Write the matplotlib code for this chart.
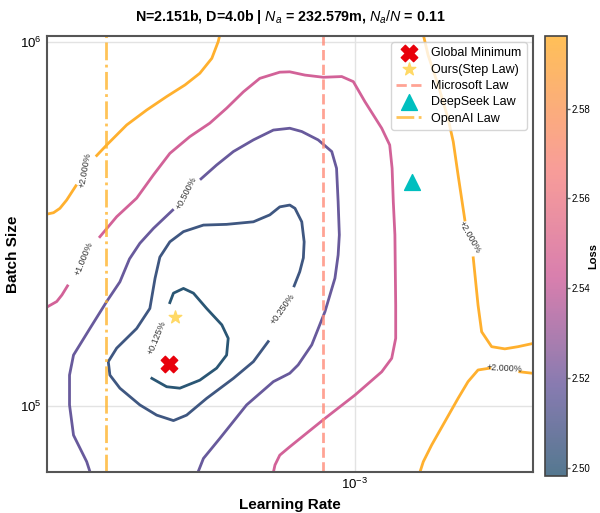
import numpy as np
import matplotlib
matplotlib.use('Agg')
import matplotlib.pyplot as plt
from matplotlib.colors import LinearSegmentedColormap, Normalize
from matplotlib.cm import ScalarMappable

plt.rcParams['font.family'] = ['Liberation Sans', 'DejaVu Sans']
plt.rcParams['mathtext.fontset'] = 'custom'
plt.rcParams['mathtext.rm'] = 'Liberation Sans'
plt.rcParams['mathtext.it'] = 'Liberation Sans:italic'
plt.rcParams['mathtext.bf'] = 'Liberation Sans:bold'

# contour paths, as (log10 lr, log10 bs)
c0125 = [(-3.463, 5.284), (-3.454, 5.310), (-3.429, 5.323), (-3.404, 5.310), (-3.371, 5.268),
         (-3.333, 5.223), (-3.317, 5.186), (-3.321, 5.140), (-3.346, 5.104), (-3.388, 5.071),
         (-3.438, 5.049), (-3.471, 5.053), (-3.508, 5.076)]
c025 = [(-3.217, 5.177), (-3.254, 5.122), (-3.304, 5.076), (-3.371, 5.021), (-3.421, 4.975),
        (-3.454, 4.960), (-3.496, 4.975), (-3.538, 5.003), (-3.588, 5.049), (-3.613, 5.085),
        (-3.617, 5.122), (-3.596, 5.159), (-3.546, 5.213), (-3.513, 5.268), (-3.500, 5.351),
        (-3.488, 5.409), (-3.463, 5.451), (-3.429, 5.479), (-3.379, 5.497), (-3.321, 5.499),
        (-3.254, 5.506), (-3.213, 5.525), (-3.188, 5.547), (-3.163, 5.552), (-3.150, 5.543),
        (-3.133, 5.506), (-3.127, 5.451), (-3.129, 5.407), (-3.138, 5.369), (-3.152, 5.330)]
c05_a = [(-3.385, 5.624), (-3.346, 5.662), (-3.304, 5.699), (-3.254, 5.731), (-3.204, 5.758),
         (-3.163, 5.763), (-3.133, 5.754), (-3.092, 5.731), (-3.058, 5.699), (-3.046, 5.653),
         (-3.042, 5.561), (-3.039, 5.470), (-3.042, 5.415), (-3.050, 5.351), (-3.075, 5.259),
         (-3.108, 5.168), (-3.142, 5.113), (-3.163, 5.090), (-3.204, 5.067), (-3.271, 5.003),
         (-3.338, 4.911), (-3.379, 4.856), (-3.392, 4.820), (-3.395, 4.808)]
c05_b = [(-3.456, 5.538), (-3.504, 5.488), (-3.538, 5.447), (-3.564, 5.404), (-3.588, 5.341),
         (-3.621, 5.287), (-3.663, 5.213), (-3.704, 5.140), (-3.714, 5.085), (-3.714, 5.003),
         (-3.704, 4.920), (-3.671, 4.847), (-3.663, 4.820), (-3.660, 4.808)]
c1_a = [(-3.638, 5.465), (-3.596, 5.520), (-3.546, 5.571), (-3.504, 5.635), (-3.463, 5.694),
        (-3.413, 5.740), (-3.363, 5.777), (-3.321, 5.818), (-3.279, 5.863), (-3.238, 5.900),
        (-3.188, 5.917), (-3.163, 5.918), (-3.125, 5.909), (-3.079, 5.903), (-3.033, 5.905),
        (-3.004, 5.891), (-2.975, 5.836), (-2.933, 5.763), (-2.913, 5.717), (-2.907, 5.653),
        (-2.904, 5.561), (-2.900, 5.470), (-2.898, 5.277), (-2.898, 5.186), (-2.908, 5.131),
        (-2.933, 5.094), (-3.000, 5.030), (-3.075, 4.966), (-3.163, 4.888), (-3.188, 4.865),
        (-3.200, 4.838), (-3.204, 4.818), (-3.206, 4.808)]
c1_b = [(-3.775, 5.269), (-3.746, 5.287), (-3.733, 5.305), (-3.719, 5.330)]
c2_a = [(-3.646, 5.688), (-3.621, 5.717), (-3.571, 5.772), (-3.521, 5.813), (-3.471, 5.850),
        (-3.425, 5.882), (-3.388, 5.914), (-3.358, 5.955), (-3.342, 6.001), (-3.338, 6.019)]
c2_b = [(-3.780, 5.524), (-3.771, 5.527), (-3.754, 5.531), (-3.738, 5.543), (-3.721, 5.566),
        (-3.698, 5.605)]
c2_c = [(-2.830, 6.025), (-2.817, 5.964), (-2.792, 5.882), (-2.767, 5.790), (-2.754, 5.726),
        (-2.742, 5.635), (-2.725, 5.511)]
c2_d = [(-2.704, 5.407), (-2.692, 5.277), (-2.683, 5.204), (-2.658, 5.163), (-2.625, 5.157),
        (-2.592, 5.163), (-2.554, 5.172), (-2.548, 5.173)]
c2_e = [(-2.6625, 5.104), (-2.692, 5.099), (-2.717, 5.067), (-2.742, 5.021), (-2.775, 4.957),
        (-2.808, 4.893), (-2.829, 4.847), (-2.8375, 4.818), (-2.840, 4.808)]
c2_f = [(-2.5875, 5.094), (-2.548, 5.089)]

levels = [0.125, 0.25, 0.5, 1.0, 2.0]
paths = [(0.125, c0125), (0.25, c025), (0.5, c05_a), (0.5, c05_b), (1.0, c1_a), (1.0, c1_b),
         (2.0, c2_a), (2.0, c2_b), (2.0, c2_c), (2.0, c2_d), (2.0, c2_e), (2.0, c2_f)]

# contour labels: (text, log10 lr, log10 bs, rotation)
clabels = [('+0.125%', -3.494, 5.188, 68), ('+0.250%', -3.180, 5.266, 55),
           ('+0.500%', -3.421, 5.584, 63), ('+1.000%', -3.678, 5.404, 68),
           ('+2.000%', -3.675, 5.648, 80), ('+2.000%', -2.7125, 5.465, -60),
           ('+2.000%', -2.625, 5.102, -3)]

global_min = (3.43e-4, 1.304e5)
step_law = (3.55e-4, 1.759e5)
deepseek = (1.386e-3, 4.13e5)
microsoft_lr = 8.33e-4
openai_lr = 2.385e-4
loss_min, loss_max = 2.4982, 2.5962

cmap = LinearSegmentedColormap.from_list(
    'loss', [(0, '#2a5674'), (0.2, '#685a9c'), (0.45, '#cf5f9a'), (0.7, '#f7857f'), (1, '#ffb02e')])
lnorm = Normalize(min(levels), max(levels))

fig = plt.figure(figsize=(6.0, 5.13), dpi=100)
ax = fig.add_axes([0.078, 0.080, 0.810, 0.850])
cax = fig.add_axes([0.908, 0.072, 0.037, 0.858])

for lev, p in paths:
    p = np.array(p)
    ax.plot(10 ** p[:, 0], 10 ** p[:, 1], color=cmap(lnorm(lev)), lw=2, zorder=2)

for txt, lx, ly, rot in clabels:
    ax.text(10 ** lx, 10 ** ly, txt, fontsize=6.5, color='#333333', rotation=rot,
            ha='center', va='center', rotation_mode='anchor', zorder=3)

h_ms = ax.axvline(microsoft_lr, color='#ff8c7a', ls='--', lw=2, alpha=0.8, zorder=2)
h_oa = ax.axvline(openai_lr, color='#ffb52e', ls='-.', lw=2, alpha=0.8, zorder=2)
h_min = ax.scatter(*global_min, marker='X', s=140, color='#e8000b', zorder=5)
h_ours = ax.scatter(*step_law, marker='*', s=90, color='#ffd966', zorder=5)
h_ds = ax.scatter(*deepseek, marker='^', s=130, color='#00bfbf', zorder=5)

ax.set_xscale('log')
ax.set_yscale('log')
ax.set_xlim(1.695e-4, 2.786e-3)
ax.set_ylim(6.59e4, 1.039e6)
ax.xaxis.set_minor_formatter(matplotlib.ticker.NullFormatter())
ax.yaxis.set_minor_formatter(matplotlib.ticker.NullFormatter())
ax.tick_params(which='both', length=0, labelsize=9.5)
ax.grid(True, which='major', color='#e3e3e3', lw=1)
ax.set_axisbelow(True)
for s in ax.spines.values():
    s.set_color('#555555')
    s.set_linewidth(1.5)

ax.set_xlabel('Learning Rate', fontsize=11, fontweight='bold')
ax.set_ylabel('Batch Size', fontsize=11, fontweight='bold', labelpad=0)
ax.set_title('N=2.151b, D=4.0b | $N_a$ = 232.579m, $N_a/N$ = 0.11', fontsize=10.3,
             fontweight='bold', pad=11)

ax.legend([h_min, h_ours, h_ms, h_ds, h_oa],
          ['Global Minimum', 'Ours(Step Law)', 'Microsoft Law', 'DeepSeek Law', 'OpenAI Law'],
          loc='upper right', fontsize=9, framealpha=0.8, borderpad=0.4, handletextpad=0.8,
          labelspacing=0.35)

sm = ScalarMappable(norm=Normalize(loss_min, loss_max), cmap=cmap)
cb = fig.colorbar(sm, cax=cax, alpha=0.8)
cb.set_ticks([2.50, 2.52, 2.54, 2.56, 2.58])
cb.ax.tick_params(labelsize=7, length=2, width=1, color='#666666', pad=1)
cb.outline.set_edgecolor('#444444')
cb.outline.set_linewidth(1.2)
cb.set_label('Loss', fontsize=8, fontweight='bold')
cb.ax.yaxis.set_label_coords(2.2, 0.5)
cb.ax.yaxis.label.set_va('center')

fig.savefig('out.png', dpi=100)
